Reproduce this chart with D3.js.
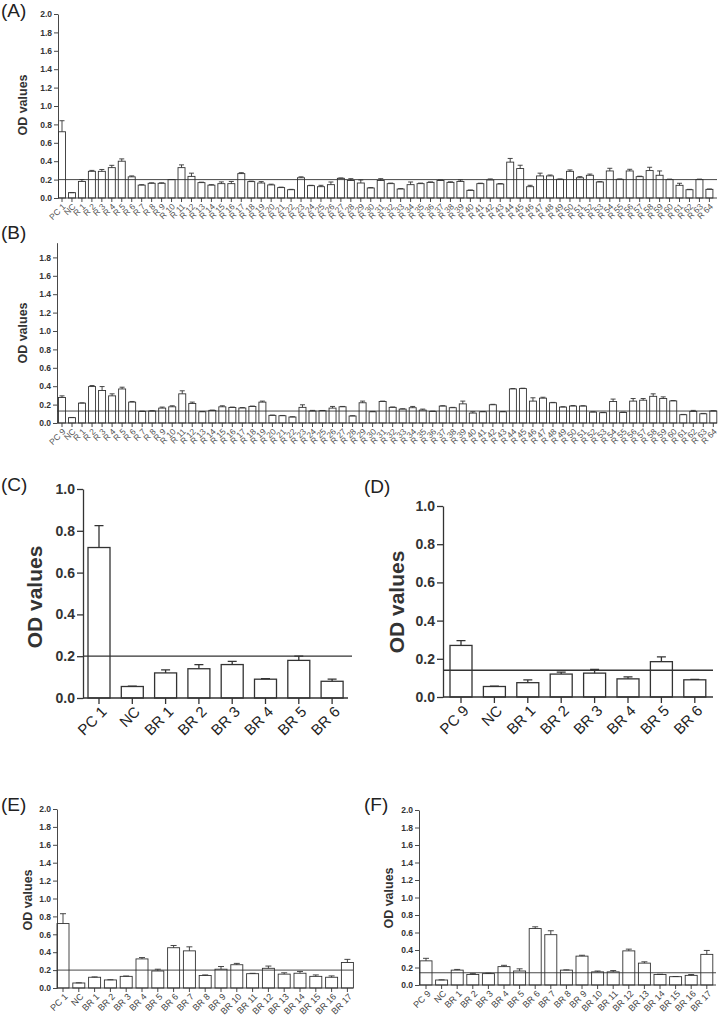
<!DOCTYPE html>
<html>
<head>
<meta charset="UTF-8">
<title>OD values</title>
<script src="https://d3js.org/d3.v7.min.js"></script>
<style>
  body { margin: 0; background: #fff; }
  svg { display: block; font-family: "Liberation Sans", Arial, sans-serif; }
</style>
</head>
<body>
<div id="chart"></div>
<script>
// ---- data ----
var catsA = ["PC 1", "NC"].concat(d3.range(1, 65).map(function(i) { return "R " + i; }));
var catsB = ["PC 9", "NC"].concat(d3.range(1, 65).map(function(i) { return "R " + i; }));
var catsC = ["PC 1", "NC", "BR 1", "BR 2", "BR 3", "BR 4", "BR 5", "BR 6"];
var catsD = ["PC 9", "NC", "BR 1", "BR 2", "BR 3", "BR 4", "BR 5", "BR 6"];
var catsE = ["PC 1", "NC", "BR 1", "BR 2", "BR 3", "BR 4", "BR 5", "BR 6", "BR 7", "BR 8", "BR 9",
             "BR 10", "BR 11", "BR 12", "BR 13", "BR 14", "BR 15", "BR 16", "BR 17"];
var catsF = ["PC 9", "NC", "BR 1", "BR 2", "BR 3", "BR 4", "BR 5", "BR 6", "BR 7", "BR 8", "BR 9",
             "BR 10", "BR 11", "BR 12", "BR 13", "BR 14", "BR 15", "BR 16", "BR 17"];

var meanA = [0.72, 0.058, 0.18, 0.29, 0.29, 0.33, 0.40, 0.23, 0.14, 0.16, 0.16, 0.20, 0.33, 0.235,
             0.167, 0.14, 0.156, 0.156, 0.265, 0.178, 0.163, 0.142, 0.113, 0.09, 0.22, 0.134, 0.123,
             0.145, 0.214, 0.19, 0.163, 0.109, 0.19, 0.156, 0.098, 0.145, 0.156, 0.17, 0.19, 0.17,
             0.18, 0.083, 0.156, 0.196, 0.152, 0.39, 0.32, 0.123, 0.24, 0.24, 0.203, 0.29, 0.22,
             0.247, 0.174, 0.294, 0.203, 0.294, 0.232, 0.298, 0.247, 0.2, 0.138, 0.09, 0.2, 0.094];
var errA  = [0.12, 0, 0.02, 0.01, 0.02, 0.025, 0.025, 0.01, 0.005, 0.005, 0.005, 0, 0.03, 0.035,
             0.005, 0.005, 0.019, 0.024, 0.01, 0.005, 0.015, 0.008, 0.005, 0.004, 0.01, 0.004, 0.015,
             0.029, 0.004, 0.02, 0.033, 0.004, 0.02, 0.006, 0.004, 0.029, 0.006, 0.005, 0.006, 0.006,
             0.016, 0.004, 0.005, 0.011, 0.005, 0.04, 0.036, 0.015, 0.03, 0.01, 0.004, 0.015, 0.012,
             0.013, 0.004, 0.029, 0.004, 0.018, 0.005, 0.036, 0.047, 0.005, 0.022, 0.004, 0.005, 0.004];

var meanB = [0.277, 0.058, 0.216, 0.396, 0.353, 0.295, 0.37, 0.227, 0.126, 0.13, 0.162, 0.176, 0.317,
             0.212, 0.122, 0.137, 0.176, 0.169, 0.163, 0.18, 0.227, 0.083, 0.079, 0.065, 0.17, 0.13,
             0.133, 0.162, 0.176, 0.076, 0.22, 0.122, 0.234, 0.17, 0.151, 0.166, 0.14, 0.126, 0.184,
             0.166, 0.208, 0.108, 0.122, 0.198, 0.122, 0.37, 0.374, 0.238, 0.27, 0.22, 0.173, 0.184,
             0.184, 0.119, 0.112, 0.234, 0.115, 0.238, 0.248, 0.29, 0.266, 0.24, 0.09, 0.126, 0.1, 0.13];
var errB  = [0.018, 0.002, 0.003, 0.011, 0.043, 0.022, 0.019, 0.007, 0.003, 0.003, 0.011, 0.011, 0.033,
             0.015, 0.003, 0.003, 0.011, 0.004, 0.005, 0.004, 0.011, 0.003, 0.003, 0.003, 0.028, 0.007,
             0.003, 0.018, 0.004, 0.003, 0.018, 0.004, 0.004, 0.004, 0.004, 0.014, 0.011, 0.003, 0.004,
             0.004, 0.03, 0.014, 0.003, 0.005, 0.003, 0.005, 0.004, 0.036, 0.01, 0.004, 0.004, 0.006,
             0.004, 0.003, 0.003, 0.026, 0.003, 0.028, 0.018, 0.027, 0.018, 0.004, 0.003, 0.011, 0.004, 0.004];

var meanC = [0.72, 0.055, 0.12, 0.14, 0.16, 0.09, 0.18, 0.08];
var errC  = [0.105, 0.002, 0.015, 0.02, 0.015, 0.003, 0.02, 0.01];
var meanD = [0.27, 0.055, 0.075, 0.12, 0.125, 0.095, 0.185, 0.09];
var errD  = [0.025, 0.002, 0.015, 0.01, 0.02, 0.01, 0.025, 0.002];

var meanE = [0.72, 0.056, 0.12, 0.09, 0.13, 0.325, 0.19, 0.45, 0.415, 0.14, 0.21, 0.26, 0.16,
             0.22, 0.155, 0.165, 0.13, 0.12, 0.285];
var errE  = [0.11, 0.002, 0.004, 0.003, 0.004, 0.015, 0.02, 0.025, 0.045, 0.006, 0.03, 0.015, 0.004,
             0.025, 0.015, 0.02, 0.016, 0.015, 0.035];
var meanF = [0.276, 0.057, 0.17, 0.12, 0.13, 0.21, 0.16, 0.645, 0.575, 0.17, 0.33, 0.15, 0.15,
             0.39, 0.25, 0.12, 0.095, 0.11, 0.35];
var errF  = [0.029, 0.002, 0.008, 0.01, 0.005, 0.015, 0.025, 0.02, 0.045, 0.003, 0.01, 0.01, 0.015,
             0.02, 0.015, 0.003, 0.002, 0.01, 0.045];

var cutA = 0.2, cutB = 0.13, cutC = 0.2, cutD = 0.14, cutE = 0.2, cutF = 0.14;

var ticksFull = [0, 0.2, 0.4, 0.6, 0.8, 1.0, 1.2, 1.4, 1.6, 1.8, 2.0];
var ticksB    = [0, 0.2, 0.4, 0.6, 0.8, 1.0, 1.2, 1.4, 1.6, 1.8];
var ticksOne  = [0, 0.2, 0.4, 0.6, 0.8, 1.0];

// ---- drawing ----
var svg = d3.select("#chart").append("svg")
    .attr("width", 720)
    .attr("height", 1028);
svg.append("rect").attr("width", 720).attr("height", 1028).attr("fill", "#fff");

var ink = "#333";

function panel(p) {
    var g = svg.append("g");
    var n = p.cats.length;
    var pi = 1 - p.bw / p.step;
    var po = (p.first - p.ax - p.bw / 2) / p.step;
    var x = d3.scaleBand()
        .domain(p.cats)
        .range([p.ax, p.ax + p.step * (n - pi + 2 * po)])
        .paddingInner(pi)
        .paddingOuter(po);
    var y = d3.scaleLinear()
        .domain([0, p.yMax])
        .range([p.y0, p.y0 - p.yMax * p.ppu]);

    // bars
    g.selectAll("rect.bar").data(p.mean).enter().append("rect")
        .attr("x", function(d, i) { return x(p.cats[i]); })
        .attr("y", function(d) { return y(d); })
        .attr("width", x.bandwidth())
        .attr("height", function(d) { return y(0) - y(d); })
        .attr("fill", "#fff")
        .attr("stroke", ink)
        .attr("stroke-width", p.sw);

    // error bars (upper only)
    var cap = p.cap;
    g.selectAll("path.err").data(p.mean).enter().append("path")
        .attr("d", function(d, i) {
            var cx = x(p.cats[i]) + x.bandwidth() / 2;
            var top = y(d + p.err[i]);
            return "M" + cx + "," + y(d) + "V" + top + "M" + (cx - cap / 2) + "," + top + "H" + (cx + cap / 2);
        })
        .attr("fill", "none")
        .attr("stroke", ink)
        .attr("stroke-width", p.sw);

    // cutoff line
    g.append("line")
        .attr("x1", p.ax).attr("x2", p.cutEnd)
        .attr("y1", y(p.cut)).attr("y2", y(p.cut))
        .attr("stroke", ink).attr("stroke-width", p.sw);

    // y axis
    var ya = g.append("g")
        .attr("transform", "translate(" + p.ax + ",0)")
        .call(d3.axisLeft(y).tickValues(p.ticks).tickFormat(d3.format(".1f"))
            .tickSize(p.tick).tickSizeOuter(0).tickPadding(2));
    ya.selectAll("path,line").attr("stroke", ink).attr("stroke-width", p.sw);
    ya.selectAll("text").attr("fill", ink).attr("font-size", p.yFont).attr("font-weight", "bold")
        .attr("font-family", "Liberation Sans, Arial, sans-serif");

    // x axis
    var xa = g.append("g")
        .attr("transform", "translate(0," + p.y0 + ")")
        .call(d3.axisBottom(x).tickSize(p.tick).tickSizeOuter(0));
    xa.select(".domain").remove();
    xa.selectAll("line").attr("stroke", ink).attr("stroke-width", p.sw);
    xa.selectAll("text")
        .attr("fill", p.xColor)
        .attr("font-size", p.xFont)
        .attr("font-family", "Liberation Sans, Arial, sans-serif")
        .attr("text-anchor", "end")
        .attr("x", 0).attr("y", 0).attr("dy", "0.35em")
        .attr("transform", "translate(" + p.lx + "," + (p.tick + p.ly) + ") rotate(-45)");
    g.append("line")
        .attr("x1", p.ax).attr("x2", p.xEnd)
        .attr("y1", p.y0).attr("y2", p.y0)
        .attr("stroke", ink).attr("stroke-width", p.sw);

    // y title
    g.append("text")
        .attr("transform", "translate(" + p.titleX + "," + p.titleY + ") rotate(-90)")
        .attr("text-anchor", "middle")
        .attr("font-size", p.titleFont)
        .attr("font-weight", "bold")
        .attr("fill", ink)
        .text("OD values");

    // panel letter
    g.append("text")
        .attr("x", p.tagX).attr("y", p.tagY)
        .attr("font-size", 19)
        .attr("fill", "#222")
        .text(p.tag);
}

panel({ tag: "(A)", tagX: 1, tagY: 17, cats: catsA, mean: meanA, err: errA, cut: cutA, ticks: ticksFull,
        ax: 58, first: 62, step: 9.96, bw: 7, y0: 198, ppu: 92, yMax: 2.0, xEnd: 717, cutEnd: 717,
        sw: 0.9, cap: 5, tick: 4, yFont: 8.5, xFont: 8.5, xColor: "#555", lx: 2, ly: 3,
        titleX: 27, titleY: 105, titleFont: 12.5 });

panel({ tag: "(B)", tagX: 1, tagY: 239, cats: catsB, mean: meanB, err: errB, cut: cutB, ticks: ticksB,
        ax: 57, first: 62, step: 10.02, bw: 7, y0: 423, ppu: 92, yMax: 1.96, xEnd: 717, cutEnd: 717,
        sw: 0.9, cap: 5, tick: 4, yFont: 8.5, xFont: 8.5, xColor: "#555", lx: 2, ly: 3,
        titleX: 27, titleY: 333, titleFont: 12.5 });

panel({ tag: "(C)", tagX: 1, tagY: 491, cats: catsC, mean: meanC, err: errC, cut: cutC, ticks: ticksOne,
        ax: 83, first: 99, step: 33.3, bw: 22, y0: 698, ppu: 209, yMax: 1.0, xEnd: 348, cutEnd: 352,
        sw: 1.3, cap: 9, tick: 6, yFont: 14, xFont: 15, xColor: "#222", lx: 5, ly: 5,
        titleX: 42, titleY: 597, titleFont: 21 });

panel({ tag: "(D)", tagX: 364, tagY: 493, cats: catsD, mean: meanD, err: errD, cut: cutD, ticks: ticksOne,
        ax: 443, first: 461, step: 33.4, bw: 22, y0: 697, ppu: 191, yMax: 1.0, xEnd: 713, cutEnd: 713,
        sw: 1.3, cap: 9, tick: 6, yFont: 14, xFont: 15, xColor: "#222", lx: 5, ly: 5,
        titleX: 404, titleY: 602, titleFont: 21 });

panel({ tag: "(E)", tagX: 1, tagY: 811, cats: catsE, mean: meanE, err: errE, cut: cutE, ticks: ticksFull,
        ax: 57, first: 63, step: 15.8, bw: 12, y0: 988, ppu: 89.5, yMax: 2.0, xEnd: 353, cutEnd: 353,
        sw: 0.9, cap: 6, tick: 4, yFont: 8.5, xFont: 9, xColor: "#444", lx: 3, ly: 3,
        titleX: 32, titleY: 900, titleFont: 12.5 });

panel({ tag: "(F)", tagX: 364, tagY: 811, cats: catsF, mean: meanF, err: errF, cut: cutF, ticks: ticksFull,
        ax: 419, first: 426, step: 15.6, bw: 12, y0: 985, ppu: 87.5, yMax: 2.0, xEnd: 716, cutEnd: 716,
        sw: 0.9, cap: 6, tick: 4, yFont: 8.5, xFont: 9, xColor: "#444", lx: 3, ly: 3,
        titleX: 393, titleY: 898, titleFont: 12.5 });
</script>
</body>
</html>
